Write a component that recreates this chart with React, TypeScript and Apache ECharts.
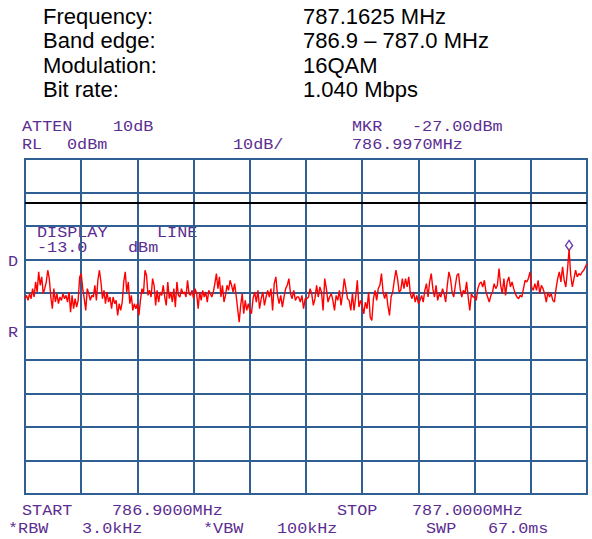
import React, { useEffect, useRef } from "react";
import * as echarts from "echarts";

// Header information
const infoLabels = ["Frequency:", "Band edge:", "Modulation:", "Bit rate:"];
const infoValues = ["787.1625 MHz", "786.9 \u2013 787.0 MHz", "16QAM", "1.040 Mbps"];

// Analyzer settings
const refLevelDbm = 0;
const dbPerDiv = 10;
const displayLineDbm = -13.0;
const spanKHz = 100; // 786.9000 -> 787.0000 MHz

// Trace (dBm), read in five 20 kHz spans
const trace0to20 = [
  -41.7, -40.7, -42.2, -40.2, -41.7, -38.7, -41.2, -36.7, -39.7, -33.7,
  -37.7, -35.2, -40.2, -38.7, -36.7, -33.2, -35.7, -41.2, -44.7, -38.7,
  -42.7, -40.2, -43.2, -41.2, -42.2, -40.2, -41.7, -40.7, -42.7, -39.7,
  -45.7, -40.7, -44.7, -41.7, -44.2, -42.2, -35.2, -34.2, -38.7, -41.7,
  -45.2, -38.7, -40.2, -42.2, -40.7, -41.2, -37.7, -42.2, -36.2, -33.2,
  -36.7, -41.7, -39.2, -43.2, -39.7, -42.7, -41.2, -44.7, -41.2, -43.2,
  -42.2, -46.7, -43.2, -45.2, -42.7, -36.7, -33.7, -39.7, -36.7, -43.2,
  -40.7, -45.2, -43.2, -44.7,
];
const trace20to40 = [
  -43.2, -46.7, -42.2, -38.7, -40.2, -33.2, -34.7, -40.7, -39.2, -41.2,
  -35.7, -37.7, -43.7, -39.2, -42.7, -39.7, -40.7, -37.7, -41.2, -43.7,
  -36.7, -41.7, -39.7, -42.7, -38.7, -44.2, -36.7, -40.7, -41.2, -38.7,
  -40.2, -39.7, -41.2, -36.2, -40.2, -40.7, -39.2, -41.7, -38.7, -40.2,
  -44.7, -39.7, -42.2, -39.2, -41.2, -39.7, -42.7, -39.2, -40.2, -41.2,
  -39.7, -37.2, -34.2, -38.7, -35.2, -41.2, -37.7, -42.7, -40.7, -37.7,
  -39.2, -36.2, -37.7, -39.7, -37.2, -40.7, -44.7, -48.7, -43.7, -40.2,
  -46.2, -42.2, -45.2, -43.2,
];
const trace40to60 = [
  -45.2, -46.2, -41.7, -39.7, -42.7, -39.2, -44.7, -41.7, -39.7, -43.7,
  -41.2, -39.2, -41.2, -38.7, -45.2, -37.2, -35.2, -40.7, -43.2, -40.7,
  -44.2, -41.2, -38.7, -37.7, -35.7, -40.2, -41.7, -39.2, -42.2, -41.2,
  -41.2, -42.7, -40.7, -44.7, -41.7, -41.7, -41.2, -38.7, -40.2, -43.7,
  -41.7, -37.7, -41.2, -38.2, -39.7, -45.2, -35.7, -38.7, -42.7, -41.2,
  -40.2, -42.2, -45.2, -40.7, -42.2, -39.2, -43.7, -40.2, -35.7, -38.7,
  -41.7, -42.2, -45.2, -40.2, -45.2, -41.2, -36.2, -44.2, -42.2,
];
const trace60to80 = [
  -43.7, -46.2, -42.7, -44.7, -39.7, -47.2, -48.2, -41.7, -39.2, -42.2,
  -38.7, -37.7, -34.2, -39.7, -41.7, -39.7, -43.7, -46.7, -41.2, -39.7,
  -36.2, -33.2, -35.7, -39.7, -39.2, -35.7, -38.7, -35.7, -38.2, -35.2,
  -40.2, -41.7, -39.7, -42.7, -40.7, -43.2, -42.2, -40.7, -42.7, -39.2,
  -37.2, -41.2, -36.7, -34.2, -38.7, -41.2, -37.7, -42.2, -40.2, -41.2,
  -38.7, -40.2, -42.7, -37.7, -33.7, -35.7, -39.7, -41.2, -37.7, -34.7,
  -34.2, -38.7, -41.2, -39.2, -40.2, -36.7, -41.2, -45.2, -40.2, -41.2,
];
const trace80to100 = [
  -41.2, -42.2, -38.7, -37.2, -36.7, -38.2, -36.2, -39.7, -41.2, -42.7,
  -40.7, -39.7, -37.2, -38.7, -37.7, -32.7, -37.7, -40.2, -35.7, -40.7,
  -36.7, -35.2, -38.2, -36.7, -38.7, -40.2, -41.2, -41.7, -40.7, -41.2,
  -38.7, -36.2, -36.7, -35.7, -33.7, -38.2, -39.2, -37.2, -39.2, -36.2,
  -40.2, -37.7, -38.7, -40.2, -42.7, -39.7, -41.2, -40.2, -42.2, -42.7,
  -38.7, -35.7, -33.7, -36.7, -32.2, -36.2, -38.2, -33.2, -27.0, -34.7,
  -38.2, -35.7, -33.2, -35.2, -34.2, -34.7, -33.7, -33.2, -32.2, -31.2,
];
const traceSpans = [trace0to20, trace20to40, trace40to60, trace60to80, trace80to100];

// Screen annotation texts
const topLeftTexts = ["ATTEN", "10dB", "RL", "0dBm", "10dB/"];
const markerTexts = ["MKR", "-27.00dBm", "786.9970MHz"];
const displayLineTexts = ["DISPLAY", "LINE", "-13.0", "dBm"];
const sideTexts = ["D", "R"];
const bottomTexts = ["START", "786.9000MHz", "STOP", "787.0000MHz"];
const bottomTexts2 = ["*RBW", "3.0kHz", "*VBW", "100kHz", "SWP", "67.0ms"];

const PURPLE = "#5c2d91";
const GRIDC = "#2f5f93";
const MONO = "'Liberation Mono', 'DejaVu Sans Mono', monospace";
const SANS = "'Liberation Sans', Arial, sans-serif";

function buildTrace(): number[][] {
  const pts: number[][] = [];
  const n = traceSpans.length;
  const w = spanKHz / n;
  traceSpans.forEach((arr, k) => {
    const last = k === n - 1;
    arr.forEach((v, j) => {
      const x = k * w + (w * j) / (last ? arr.length - 1 : arr.length);
      pts.push([x, v]);
    });
  });
  return pts;
}

function monoText(text: string, x: number, y: number) {
  return {
    type: "text",
    x,
    y,
    scaleX: 1.12,
    silent: true,
    style: {
      text,
      fill: PURPLE,
      fontFamily: MONO,
      fontSize: 15,
      textAlign: "left",
      textVerticalAlign: "middle",
    },
  };
}

function sansText(text: string, x: number, y: number) {
  return {
    type: "text",
    x,
    y,
    silent: true,
    style: { text, fill: "#000", fontFamily: SANS, fontSize: 22, textAlign: "left", textVerticalAlign: "middle" },
  };
}

export default function App() {
  const ref = useRef<HTMLDivElement>(null);
  useEffect(() => {
    if (!ref.current) return;
    const chart = echarts.init(ref.current, null, { renderer: "svg" });

    const graphics: any[] = [];
    infoLabels.forEach((t, i) => {
      const y = 16 + i * 24.5;
      graphics.push(sansText(t, 43, y));
      graphics.push(sansText(infoValues[i], 303, y));
    });
    // top left
    graphics.push(monoText(topLeftTexts[0], 22, 127));
    graphics.push(monoText(topLeftTexts[1], 113, 127));
    graphics.push(monoText(topLeftTexts[2], 22, 145));
    graphics.push(monoText(topLeftTexts[3], 67, 145));
    graphics.push(monoText(topLeftTexts[4], 233, 145));
    // marker
    graphics.push(monoText(markerTexts[0], 352, 127));
    graphics.push(monoText(markerTexts[1], 412, 127));
    graphics.push(monoText(markerTexts[2], 352, 145));
    // display line
    graphics.push(monoText(displayLineTexts[0], 37, 233));
    graphics.push(monoText(displayLineTexts[1], 157, 233));
    graphics.push(monoText(displayLineTexts[2], 37, 248));
    graphics.push(monoText(displayLineTexts[3], 128, 248));
    // side
    graphics.push(monoText(sideTexts[0], 8, 262));
    graphics.push(monoText(sideTexts[1], 8, 333));
    // bottom
    graphics.push(monoText(bottomTexts[0], 22, 511));
    graphics.push(monoText(bottomTexts[1], 112, 511));
    graphics.push(monoText(bottomTexts[2], 337, 511));
    graphics.push(monoText(bottomTexts[3], 412, 511));
    graphics.push(monoText(bottomTexts2[0], 8, 529));
    graphics.push(monoText(bottomTexts2[1], 82, 529));
    graphics.push(monoText(bottomTexts2[2], 203, 529));
    graphics.push(monoText(bottomTexts2[3], 277, 529));
    graphics.push(monoText(bottomTexts2[4], 426, 529));
    graphics.push(monoText(bottomTexts2[5], 488, 529));

    chart.setOption({
      animation: false,
      backgroundColor: "#ffffff",
      grid: {
        left: 25,
        right: 5,
        top: 159,
        bottom: 45,
        show: true,
        borderColor: GRIDC,
        borderWidth: 2,
        backgroundColor: "transparent",
      },
      xAxis: {
        type: "value",
        min: 0,
        max: spanKHz,
        interval: spanKHz / 10,
        axisLabel: { show: false },
        axisTick: { show: false },
        axisLine: { show: true, lineStyle: { color: GRIDC, width: 2 } },
        splitLine: { show: true, lineStyle: { color: GRIDC, width: 2 } },
      },
      yAxis: {
        type: "value",
        min: refLevelDbm - 10 * dbPerDiv,
        max: refLevelDbm,
        interval: dbPerDiv,
        axisLabel: { show: false },
        axisTick: { show: false },
        axisLine: { show: true, lineStyle: { color: GRIDC, width: 2 } },
        splitLine: { show: true, lineStyle: { color: GRIDC, width: 2 } },
      },
      series: [
        {
          type: "line",
          data: buildTrace(),
          showSymbol: false,
          symbol: "none",
          lineStyle: { color: "#ff0000", width: 1.4 },
          z: 5,
          markLine: {
            silent: true,
            symbol: ["none", "none"],
            label: { show: false },
            lineStyle: { color: "#000000", width: 2, type: "solid" },
            data: [{ yAxis: displayLineDbm }],
            z: 4,
          },
          markPoint: {
            symbol: "diamond",
            symbolSize: [7, 10],
            symbolOffset: [0, -4],
            label: { show: false },
            itemStyle: { color: "#ffffff", borderColor: "#6a3fb0", borderWidth: 1.5 },
            data: [{ type: "max" }],
          },
        },
      ],
      graphic: graphics,
    });
    return () => chart.dispose();
  }, []);
  return <div ref={ref} style={{ position: "fixed", left: 0, top: 0, width: 592, height: 539 }} />;
}
